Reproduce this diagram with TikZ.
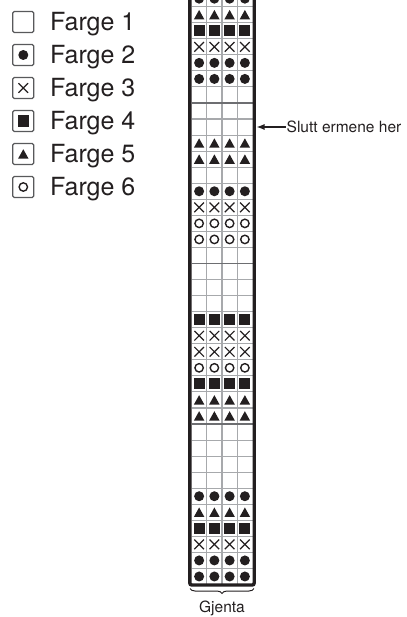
\documentclass[tikz,border=0pt]{standalone}
\usepackage{fontspec}
\setmainfont{TeX Gyre Heros}
\usetikzlibrary{decorations.pathreplacing,arrows.meta}
\definecolor{ink}{HTML}{231F20}
\definecolor{gridgray}{HTML}{A7A9AC}
\definecolor{darkgrid}{HTML}{6D6E71}
\definecolor{boxgray}{HTML}{58595B}
\begin{document}
\begin{tikzpicture}[x=1pt,y=-1pt,
  pics/symE/.style={code={}},
  pics/symC/.style={code={\fill[ink] (0,0) circle (5);}},
  pics/symO/.style={code={\draw[ink,line width=1.4] (0,0) circle (4.2);}},
  pics/symS/.style={code={\fill[ink] (-5.6,-5.6) rectangle (5.6,5.6);}},
  pics/symT/.style={code={\fill[ink] (0,-4.8) -- (5.2,4.6) -- (-5.2,4.6) -- cycle;}},
  pics/symX/.style={code={\draw[ink,line width=1.2] (-4.8,-4.8) -- (4.8,4.8) (-4.8,4.8) -- (4.8,-4.8);}},
  gridline/.style={gridgray,line width=1.1},
  tenline/.style={darkgrid,line width=1.3},
  legbox/.style={draw=boxgray,line width=1.3,rounded corners=1.5,minimum size=21pt,inner sep=0pt},
  legtext/.style={anchor=base west,inner sep=0pt,font=\fontsize{25}{30}\selectfont,text=ink},
  smalltext/.style={inner sep=1pt,font=\fontsize{15.5}{18}\selectfont,text=ink}
]
\useasboundingbox (0,0) rectangle (406,617);
% legend
\foreach \i/\s in {1/E,2/C,3/X,4/S,5/T,6/O}{
  \pgfmathsetmacro\ly{22+33*(\i-1)}
  \node[legbox] (box\i) at (23.3,\ly) {};
  \pic at (box\i.center) {sym\s};
  \node[legtext] (leg\i) at (50,\ly+9) {Farge \i};
}
% chart
\begin{scope}
\clip (0,0) rectangle (406,617);
\foreach \j in {-1,...,35}{
  \draw[gridline] (191.5,{6.7+\j*16.05}) -- (252.5,{6.7+\j*16.05});
}
\foreach \i in {1,2,3}{
  \draw[gridline] ({191.5+15.25*\i},-5) -- ({191.5+15.25*\i},584.5);
}
\foreach \j in {6,16,26}{
  \draw[tenline] (191.5,{6.7+\j*16.05}) -- (252.5,{6.7+\j*16.05});
}
\foreach \k/\t in {1/C,2/T,3/S,4/X,5/C,6/C,7/E,8/E,9/E,10/T,11/T,12/E,13/C,14/X,15/O,16/O,17/E,18/E,19/E,20/E,21/S,22/X,23/X,24/O,25/S,26/T,27/T,28/E,29/E,30/E,31/E,32/C,33/T,34/S,35/X,36/C,37/C}{
  \foreach \c in {0,1,2,3}{
    \pic at ({199.125+15.25*\c},{-1.325+(\k-1)*16.05}) {sym\t};
  }
}
\draw[ink,line width=3.4,rounded corners=2] (189.8,-5) -- (189.8,585) -- (254.2,585) -- (254.2,-5);
\end{scope}
% brace and label
\coordinate (braceL) at (190,588.5);
\coordinate (braceR) at (254,588.5);
\draw[ink,line width=1] decorate[decoration={brace,amplitude=5pt,mirror}] {(braceL) -- (braceR)};
\node[smalltext,anchor=base] (gjenta) at (222,612) {Gjenta};
% arrow note
\coordinate (tip) at (256.5,127);
\node[smalltext,anchor=base west] (slutt) at (285.5,132.5) {Slutt ermene her};
\draw[ink,line width=1.3,-{Latex[length=8pt,width=6pt]}] (slutt.west |- tip) -- (tip);
\end{tikzpicture}
\end{document}
